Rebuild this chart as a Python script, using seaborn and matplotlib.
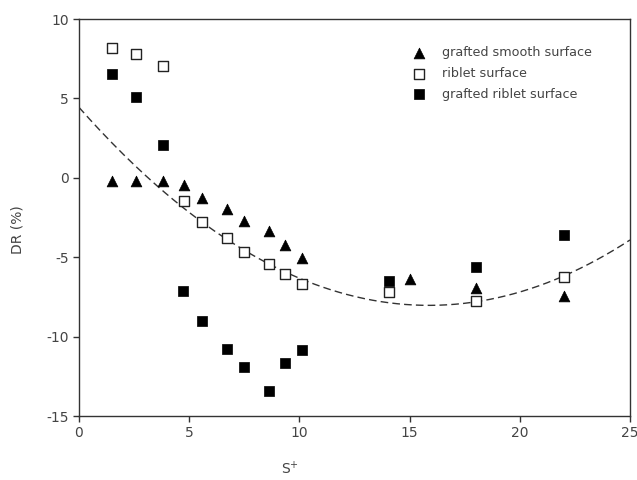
import numpy as np
import pandas as pd
import matplotlib
matplotlib.use("Agg")
import matplotlib.pyplot as plt
import seaborn as sns

# grafted smooth surface
smooth_x = [1.5, 2.6, 3.8, 4.75, 5.6, 6.7, 7.5, 8.6, 9.35, 10.1, 15.0, 18.0, 22.0]
smooth_y = [-0.17, -0.17, -0.23, -0.44, -1.28, -1.97, -2.69, -3.36, -4.26, -5.03, -6.4, -6.94, -7.47]
# riblet surface
riblet_x = [1.5, 2.6, 3.8, 4.75, 5.6, 6.7, 7.5, 8.6, 9.35, 10.1, 14.05, 18.0, 22.0]
riblet_y = [8.18, 7.78, 7.02, -1.49, -2.79, -3.8, -4.68, -5.45, -6.08, -6.67, -7.19, -7.76, -6.25]
# grafted riblet surface
gr_x = [1.5, 2.6, 3.8, 4.7, 5.6, 6.7, 7.5, 8.6, 9.35, 10.1, 14.05, 18.0, 22.0]
gr_y = [6.52, 5.11, 2.07, -7.1, -9.04, -10.78, -11.9, -13.4, -11.66, -10.84, -6.52, -5.62, -3.63]

# quadratic trend coefficients (c0 + c1*x + c2*x^2)
fit_c0, fit_c1, fit_c2 = 4.44, -1.5709, 0.04947

x_ticks = [0, 5, 10, 15, 20, 25]
y_ticks = [-15, -10, -5, 0, 5, 10]

sns.set_theme(style="white")
plt.rcParams['font.family'] = ['DejaVu Sans']
plt.rcParams['axes.unicode_minus'] = False

fig = plt.figure(figsize=(6.37, 4.8), dpi=100)
ax = fig.add_axes([0.124, 0.1333, 0.865, 0.827])

xs = np.linspace(0, 25, 200)
fit_df = pd.DataFrame({"x": xs, "y": fit_c0 + fit_c1 * xs + fit_c2 * xs ** 2})
sns.lineplot(data=fit_df, x="x", y="y", ax=ax, color="#333333", lw=1.0,
             linestyle=(0, (5.5, 3)), zorder=1)

sns.scatterplot(x=smooth_x, y=smooth_y, ax=ax, marker="^", s=60, color="black",
                edgecolor="black", linewidth=0.5, label="grafted smooth surface", zorder=3)
sns.scatterplot(x=riblet_x, y=riblet_y, ax=ax, marker="s", s=55, facecolor="white",
                edgecolor="#222222", linewidth=1.0, label="riblet surface", zorder=3)
sns.scatterplot(x=gr_x, y=gr_y, ax=ax, marker="s", s=55, color="black",
                edgecolor="black", linewidth=0.5, label="grafted riblet surface", zorder=3)

ax.set_xlim(0, 25)
ax.set_ylim(-15, 10)
ax.set_xticks(x_ticks)
ax.set_yticks(y_ticks)
ax.tick_params(axis="both", direction="out", length=4, width=1, colors="#333333",
               labelsize=10, labelcolor="#444444", bottom=True, left=True)
for s in ax.spines.values():
    s.set_color("#333333")
    s.set_linewidth(1.0)

ax.set_xlabel("S$^{+}$", fontsize=10, color="#444444")
ax.set_ylabel("DR (%)", fontsize=10, color="#444444")
ax.xaxis.set_label_coords(0.383, -0.11)
ax.yaxis.set_label_coords(-0.098, 0.47)

leg = ax.legend(loc="upper left", bbox_to_anchor=(0.584, 0.96), frameon=False,
                fontsize=9.2, handletextpad=1.3, labelspacing=0.6, handlelength=1.0)
for t in leg.get_texts():
    t.set_color("#444444")

fig.savefig("out.png", dpi=100)
